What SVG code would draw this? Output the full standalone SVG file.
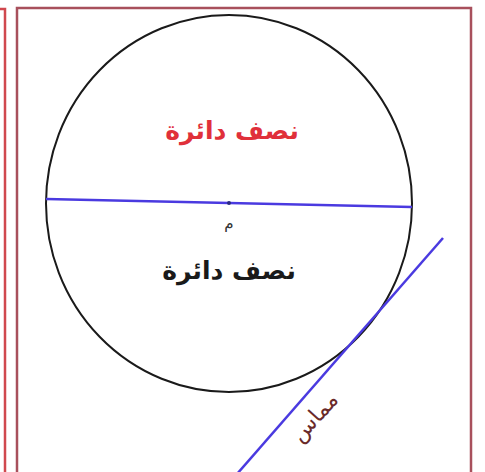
<svg xmlns="http://www.w3.org/2000/svg" width="485" height="472" viewBox="0 0 485 472">
<style>
.frame{fill:none;stroke:#a8505c;stroke-width:2.5}
.side{fill:none;stroke:#d0484e;stroke-width:2.5}
.circ{fill:none;stroke:#1a1a1a;stroke-width:2}
.blue{stroke:#4a3ae0;stroke-width:2.5;fill:none}
.lbl{font-family:"DejaVu Sans","Noto Sans",sans-serif;text-anchor:middle}
</style>
<rect width="485" height="472" fill="#ffffff"/>
<g id="frames">
<path class="side" d="M0 9 H5 V472"/>
<path class="frame" d="M17 472 V8 H471 V472"/>
</g>
<g id="circle">
<ellipse class="circ" cx="229" cy="203.5" rx="183" ry="188.5"/>
</g>
<g id="connectors">
<line class="blue" x1="46" y1="199" x2="412" y2="207"/>
<line class="blue" x1="443" y1="238" x2="237" y2="474"/>
<circle cx="229" cy="203" r="2" fill="#2a2a80"/>
</g>
<g id="labels">
<text class="lbl" x="232" y="139" font-size="25" font-weight="bold" fill="#e0303a" direction="rtl">نصف دائرة</text>
<text class="lbl" x="229" y="279" font-size="25" font-weight="bold" fill="#1a1a1a" direction="rtl">نصف دائرة</text>
<text class="lbl" x="229" y="228" font-size="15" fill="#333333">م</text>
<text class="lbl" x="0" y="0" font-size="22" fill="#6a2a2a" direction="rtl" transform="translate(320 422) rotate(-48)">مماس</text>
</g>
</svg>
